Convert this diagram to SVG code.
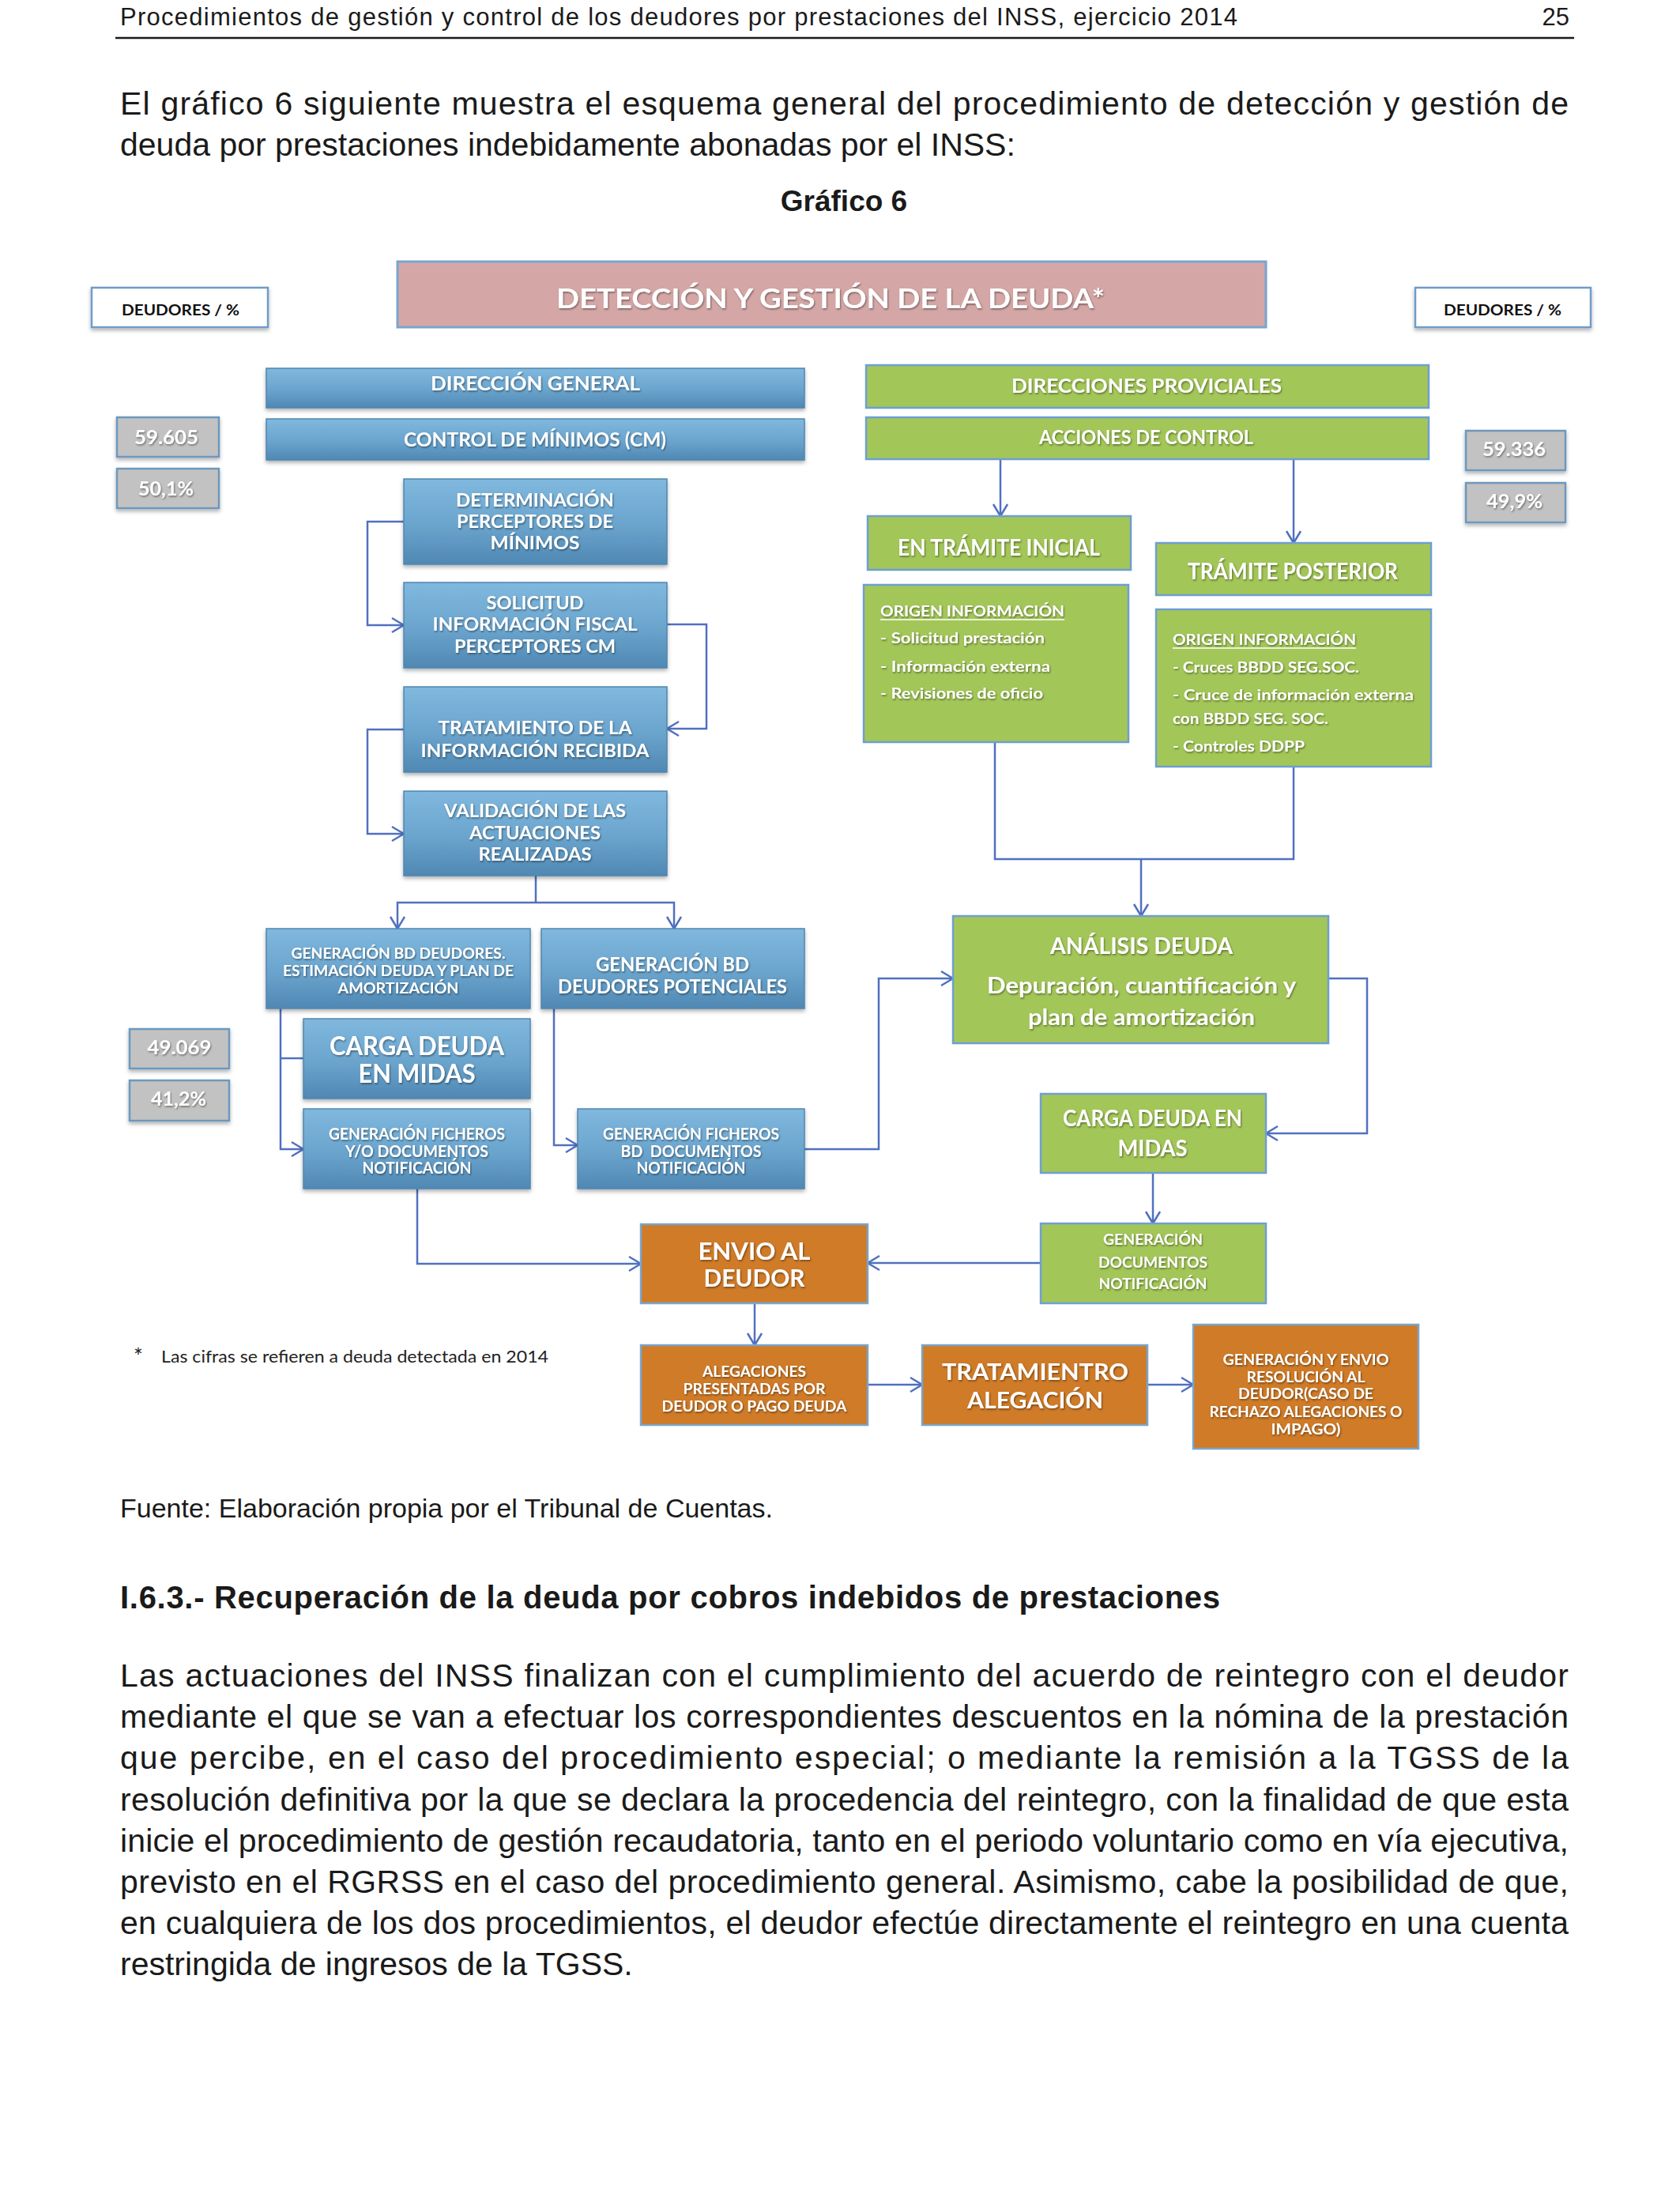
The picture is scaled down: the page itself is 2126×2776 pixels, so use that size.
<svg xmlns="http://www.w3.org/2000/svg" width="2126" height="2776" viewBox="0 0 2126 2776">
<style>
.page{font-family:"Liberation Sans",Arial,sans-serif;fill:#1a1a1a}
.lbl{font-family:Lato,"Liberation Sans",sans-serif;font-weight:700;text-anchor:middle}
.w{fill:#ffffff;filter:url(#ts)}
.lft{text-anchor:start}
.blue{fill:url(#gb);stroke:#4f86b0;stroke-width:1.5;filter:url(#bs)}
.green{fill:#a3c658;stroke:#6e9fd2;stroke-width:2.5}
.orange{fill:#cf7b28;stroke:#7aa5cb;stroke-width:2.5}
.grey{fill:#c2c2c2;stroke:#6e98bd;stroke-width:2.5;filter:url(#bs)}
.hdr{fill:#ffffff;stroke:#6f9cc8;stroke-width:2.5;filter:url(#bs)}
.title{fill:#d4a7a6;stroke:#79a5cf;stroke-width:3}
.conn path{fill:none;stroke:#5070c0;stroke-width:2.5;stroke-linejoin:miter}
</style>
<defs>
<linearGradient id="gb" x1="0" y1="0" x2="0" y2="1">
<stop offset="0" stop-color="#80b8de"/>
<stop offset="0.55" stop-color="#6aa4cd"/>
<stop offset="1" stop-color="#4f88b3"/>
</linearGradient>
<filter id="ts" x="-5%" y="-30%" width="110%" height="160%">
<feDropShadow dx="1" dy="1.5" stdDeviation="1" flood-color="#000" flood-opacity="0.45"/>
</filter>
<filter id="bs" x="-5%" y="-10%" width="110%" height="135%">
<feDropShadow dx="0" dy="3" stdDeviation="2.5" flood-color="#000" flood-opacity="0.3"/>
</filter>
<marker id="arr" markerUnits="userSpaceOnUse" markerWidth="22" markerHeight="22" viewBox="0 0 22 22" refX="19" refY="11" orient="auto">
<path d="M4,2 L19,11 L4,20" fill="none" stroke="#5070c0" stroke-width="2.5"/>
</marker>
</defs>

<rect x="0" y="0" width="2126" height="2776" fill="#ffffff"/>

<!-- page text -->
<g class="page">
<text x="152" y="32" font-size="31" textLength="1414" lengthAdjust="spacing">Procedimientos de gestión y control de los deudores por prestaciones del INSS, ejercicio 2014</text>
<text x="1986" y="32" font-size="31" text-anchor="end">25</text>
<text x="152" y="145" font-size="41" textLength="1833" lengthAdjust="spacing">El gráfico 6 siguiente muestra el esquema general del procedimiento de detección y gestión de</text>
<text x="152" y="197" font-size="41">deuda por prestaciones indebidamente abonadas por el INSS:</text>
<text x="1068" y="267" font-size="37" font-weight="bold" text-anchor="middle">Gráfico 6</text>
<text x="152" y="1920" font-size="34">Fuente: Elaboración propia por el Tribunal de Cuentas.</text>
<text x="152" y="2035" font-size="40" font-weight="bold" textLength="1392" lengthAdjust="spacing">I.6.3.- Recuperación de la deuda por cobros indebidos de prestaciones</text>
<text x="152" y="2134" font-size="41" textLength="1833" lengthAdjust="spacing">Las actuaciones del INSS finalizan con el cumplimiento del acuerdo de reintegro con el deudor</text>
<text x="152" y="2186" font-size="41" textLength="1833" lengthAdjust="spacing">mediante el que se van a efectuar los correspondientes descuentos en la nómina de la prestación</text>
<text x="152" y="2238" font-size="41" textLength="1833" lengthAdjust="spacing">que percibe, en el caso del procedimiento especial; o mediante la remisión a la TGSS de la</text>
<text x="152" y="2291" font-size="41" textLength="1833" lengthAdjust="spacing">resolución definitiva por la que se declara la procedencia del reintegro, con la finalidad de que esta</text>
<text x="152" y="2343" font-size="41" textLength="1833" lengthAdjust="spacing">inicie el procedimiento de gestión recaudatoria, tanto en el periodo voluntario como en vía ejecutiva,</text>
<text x="152" y="2395" font-size="41" textLength="1833" lengthAdjust="spacing">previsto en el RGRSS en el caso del procedimiento general. Asimismo, cabe la posibilidad de que,</text>
<text x="152" y="2447" font-size="41" textLength="1833" lengthAdjust="spacing">en cualquiera de los dos procedimientos, el deudor efectúe directamente el reintegro en una cuenta</text>
<text x="152" y="2499" font-size="41">restringida de ingresos de la TGSS.</text>
</g>
<line x1="146" y1="48" x2="1992" y2="48" stroke="#1a1a1a" stroke-width="2.5"/>

<!-- connectors -->
<g class="conn" id="connectors">
<path d="M511,660 H465 V791 H511" marker-end="url(#arr)"/>
<path d="M844,790 H894 V922 H844" marker-end="url(#arr)"/>
<path d="M511,923 H465 V1055 H511" marker-end="url(#arr)"/>
<path d="M678,1108 V1142"/>
<path d="M678,1142 H503 V1175" marker-end="url(#arr)"/>
<path d="M678,1142 H853 V1175" marker-end="url(#arr)"/>
<path d="M355,1276 V1454 H384" marker-end="url(#arr)"/>
<path d="M355,1339 H384"/>
<path d="M701,1276 V1449 H731" marker-end="url(#arr)"/>
<path d="M1018,1454 H1112 V1238 H1206" marker-end="url(#arr)"/>
<path d="M528,1504 V1599 H811" marker-end="url(#arr)"/>
<path d="M1266,581 V653" marker-end="url(#arr)"/>
<path d="M1637,581 V687" marker-end="url(#arr)"/>
<path d="M1259,939 V1087 H1637 V970"/>
<path d="M1444,1087 V1159" marker-end="url(#arr)"/>
<path d="M1681,1238 H1730 V1434 H1602" marker-end="url(#arr)"/>
<path d="M1459,1484 V1548" marker-end="url(#arr)"/>
<path d="M1317,1598 H1098" marker-end="url(#arr)"/>
<path d="M955,1649 V1702" marker-end="url(#arr)"/>
<path d="M1098,1752 H1167" marker-end="url(#arr)"/>
<path d="M1452,1752 H1510" marker-end="url(#arr)"/>
</g>

<!-- title -->
<g id="title">
<rect class="title" x="503" y="331" width="1099" height="83"/>
<text class="lbl w" x="1051" y="390" font-size="34" textLength="694" lengthAdjust="spacingAndGlyphs">DETECCIÓN Y GESTIÓN DE LA DEUDA*</text>
</g>

<g id="deudores-left">
<rect class="hdr" x="116" y="364" width="223" height="50"/>
<text class="lbl" x="228.5" y="399" font-size="19" fill="#111" textLength="149" lengthAdjust="spacingAndGlyphs">DEUDORES / %</text>
</g>
<g id="deudores-right">
<rect class="hdr" x="1791" y="364" width="222" height="50"/>
<text class="lbl" x="1901.5" y="399" font-size="19" fill="#111" textLength="149" lengthAdjust="spacingAndGlyphs">DEUDORES / %</text>
</g>

<!-- stats -->
<g id="stat-59605"><rect class="grey" x="148" y="528" width="129" height="50"/><text class="lbl w" x="210.5" y="562" font-size="25" textLength="81" lengthAdjust="spacingAndGlyphs">59.605</text></g>
<g id="stat-501"><rect class="grey" x="148" y="593" width="129" height="50"/><text class="lbl w" x="210" y="627" font-size="25" textLength="70" lengthAdjust="spacingAndGlyphs">50,1%</text></g>
<g id="stat-49069"><rect class="grey" x="164" y="1302" width="126" height="50"/><text class="lbl w" x="227" y="1334" font-size="25" textLength="81" lengthAdjust="spacingAndGlyphs">49.069</text></g>
<g id="stat-412"><rect class="grey" x="164" y="1367" width="126" height="51"/><text class="lbl w" x="226" y="1399" font-size="25" textLength="70" lengthAdjust="spacingAndGlyphs">41,2%</text></g>
<g id="stat-59336"><rect class="grey" x="1855" y="545" width="126" height="50"/><text class="lbl w" x="1916" y="577" font-size="25" textLength="80" lengthAdjust="spacingAndGlyphs">59.336</text></g>
<g id="stat-499"><rect class="grey" x="1855" y="611" width="126" height="50"/><text class="lbl w" x="1916.5" y="643" font-size="25" textLength="71" lengthAdjust="spacingAndGlyphs">49,9%</text></g>

<!-- blue column -->
<g id="direccion-general"><rect class="blue" x="337" y="466" width="681" height="50"/>
<text class="lbl w" x="677.5" y="494" font-size="25" textLength="265" lengthAdjust="spacingAndGlyphs">DIRECCIÓN GENERAL</text></g>
<g id="control-minimos"><rect class="blue" x="337" y="530" width="681" height="52"/>
<text class="lbl w" x="677" y="565" font-size="25" textLength="332" lengthAdjust="spacingAndGlyphs">CONTROL DE MÍNIMOS (CM)</text></g>
<g id="determinacion"><rect class="blue" x="511" y="606" width="333" height="108"/>
<text class="lbl w" x="677" y="641" font-size="23" textLength="200" lengthAdjust="spacingAndGlyphs">DETERMINACIÓN</text>
<text class="lbl w" x="677" y="668" font-size="23" textLength="198" lengthAdjust="spacingAndGlyphs">PERCEPTORES DE</text>
<text class="lbl w" x="677" y="695" font-size="23" textLength="113" lengthAdjust="spacingAndGlyphs">MÍNIMOS</text></g>
<g id="solicitud"><rect class="blue" x="511" y="737" width="333" height="108"/>
<text class="lbl w" x="677" y="771" font-size="23" textLength="123" lengthAdjust="spacingAndGlyphs">SOLICITUD</text>
<text class="lbl w" x="677" y="798" font-size="23" textLength="259" lengthAdjust="spacingAndGlyphs">INFORMACIÓN FISCAL</text>
<text class="lbl w" x="677" y="826" font-size="23" textLength="204" lengthAdjust="spacingAndGlyphs">PERCEPTORES CM</text></g>
<g id="tratamiento"><rect class="blue" x="511" y="869" width="333" height="108"/>
<text class="lbl w" x="677" y="929" font-size="23" textLength="245" lengthAdjust="spacingAndGlyphs">TRATAMIENTO DE LA</text>
<text class="lbl w" x="677" y="958" font-size="23" textLength="289" lengthAdjust="spacingAndGlyphs">INFORMACIÓN RECIBIDA</text></g>
<g id="validacion"><rect class="blue" x="511" y="1001" width="333" height="107"/>
<text class="lbl w" x="677" y="1034" font-size="23" textLength="230" lengthAdjust="spacingAndGlyphs">VALIDACIÓN DE LAS</text>
<text class="lbl w" x="677" y="1062" font-size="23" textLength="166" lengthAdjust="spacingAndGlyphs">ACTUACIONES</text>
<text class="lbl w" x="677" y="1089" font-size="23" textLength="143" lengthAdjust="spacingAndGlyphs">REALIZADAS</text></g>
<g id="gen-bd-deudores"><rect class="blue" x="337" y="1175" width="334" height="101"/>
<text class="lbl w" x="504" y="1212.5" font-size="18" textLength="271" lengthAdjust="spacingAndGlyphs">GENERACIÓN BD DEUDORES.</text>
<text class="lbl w" x="504" y="1234.5" font-size="18" textLength="292" lengthAdjust="spacingAndGlyphs">ESTIMACIÓN DEUDA Y PLAN DE</text>
<text class="lbl w" x="504" y="1256.5" font-size="18" textLength="153" lengthAdjust="spacingAndGlyphs">AMORTIZACIÓN</text></g>
<g id="gen-bd-potenciales"><rect class="blue" x="685" y="1175" width="333" height="101"/>
<text class="lbl w" x="851" y="1229" font-size="25" textLength="194" lengthAdjust="spacingAndGlyphs">GENERACIÓN BD</text>
<text class="lbl w" x="851" y="1257" font-size="25" textLength="290" lengthAdjust="spacingAndGlyphs">DEUDORES POTENCIALES</text></g>
<g id="carga-deuda-blue"><rect class="blue" x="384" y="1289" width="287" height="101"/>
<text class="lbl w" x="527.5" y="1334.5" font-size="32" textLength="221" lengthAdjust="spacingAndGlyphs">CARGA DEUDA</text>
<text class="lbl w" x="527.5" y="1369.5" font-size="32" textLength="148" lengthAdjust="spacingAndGlyphs">EN MIDAS</text></g>
<g id="gen-ficheros-yo"><rect class="blue" x="384" y="1403" width="287" height="101"/>
<text class="lbl w" x="527.5" y="1442" font-size="20" textLength="223" lengthAdjust="spacingAndGlyphs">GENERACIÓN FICHEROS</text>
<text class="lbl w" x="527.5" y="1464" font-size="20" textLength="181" lengthAdjust="spacingAndGlyphs">Y/O DOCUMENTOS</text>
<text class="lbl w" x="527.5" y="1485" font-size="20" textLength="138" lengthAdjust="spacingAndGlyphs">NOTIFICACIÓN</text></g>
<g id="gen-ficheros-bd"><rect class="blue" x="731" y="1403" width="287" height="101"/>
<text class="lbl w" x="874.5" y="1442" font-size="20" textLength="223" lengthAdjust="spacingAndGlyphs">GENERACIÓN FICHEROS</text>
<text class="lbl w" x="874.5" y="1464" font-size="20" textLength="178" lengthAdjust="spacingAndGlyphs" style="white-space:pre">BD  DOCUMENTOS</text>
<text class="lbl w" x="874.5" y="1485" font-size="20" textLength="138" lengthAdjust="spacingAndGlyphs">NOTIFICACIÓN</text></g>

<!-- green column -->
<g id="direcciones-provinciales"><rect class="green" x="1096" y="462" width="712" height="54"/>
<text class="lbl w" x="1451" y="497" font-size="25" textLength="342" lengthAdjust="spacingAndGlyphs">DIRECCIONES PROVICIALES</text></g>
<g id="acciones-control"><rect class="green" x="1096" y="528" width="712" height="53"/>
<text class="lbl w" x="1450.5" y="562" font-size="25" textLength="271" lengthAdjust="spacingAndGlyphs">ACCIONES DE CONTROL</text></g>
<g id="tramite-inicial"><rect class="green" x="1098" y="653" width="333" height="68"/>
<text class="lbl w" x="1264" y="703" font-size="28" textLength="256" lengthAdjust="spacingAndGlyphs">EN TRÁMITE INICIAL</text></g>
<g id="tramite-posterior"><rect class="green" x="1463" y="687" width="348" height="66"/>
<text class="lbl w" x="1636" y="733" font-size="28" textLength="266" lengthAdjust="spacingAndGlyphs">TRÁMITE POSTERIOR</text></g>
<g id="origen-inicial"><rect class="green" x="1093" y="740" width="335" height="199"/>
<text class="lbl w lft" x="1114" y="780" font-size="19" textLength="233" lengthAdjust="spacingAndGlyphs">ORIGEN INFORMACIÓN</text>
<line x1="1114" y1="784" x2="1347" y2="784" stroke="#ffffff" stroke-width="1.5"/>
<text class="lbl w lft" x="1114" y="814" font-size="19" textLength="208" lengthAdjust="spacingAndGlyphs">- Solicitud prestación</text>
<text class="lbl w lft" x="1114" y="850" font-size="19" textLength="215" lengthAdjust="spacingAndGlyphs">- Información externa</text>
<text class="lbl w lft" x="1114" y="884" font-size="19" textLength="206" lengthAdjust="spacingAndGlyphs">- Revisiones de oficio</text></g>
<g id="origen-posterior"><rect class="green" x="1463" y="771" width="348" height="199"/>
<text class="lbl w lft" x="1484" y="816" font-size="19" textLength="232" lengthAdjust="spacingAndGlyphs">ORIGEN INFORMACIÓN</text>
<line x1="1484" y1="820" x2="1716" y2="820" stroke="#ffffff" stroke-width="1.5"/>
<text class="lbl w lft" x="1484" y="851" font-size="19" textLength="236" lengthAdjust="spacingAndGlyphs">- Cruces BBDD SEG.SOC.</text>
<text class="lbl w lft" x="1484" y="886" font-size="19" textLength="305" lengthAdjust="spacingAndGlyphs">- Cruce de información externa</text>
<text class="lbl w lft" x="1484" y="916" font-size="19" textLength="197" lengthAdjust="spacingAndGlyphs">con BBDD SEG. SOC.</text>
<text class="lbl w lft" x="1484" y="951" font-size="19" textLength="167" lengthAdjust="spacingAndGlyphs">- Controles DDPP</text></g>
<g id="analisis-deuda"><rect class="green" x="1206" y="1159" width="475" height="161"/>
<text class="lbl w" x="1444.5" y="1207" font-size="28" textLength="231" lengthAdjust="spacingAndGlyphs">ANÁLISIS DEUDA</text>
<text class="lbl w" x="1444.5" y="1257" font-size="28" textLength="391" lengthAdjust="spacingAndGlyphs">Depuración, cuantificación y</text>
<text class="lbl w" x="1444.5" y="1297" font-size="28" textLength="287" lengthAdjust="spacingAndGlyphs">plan de amortización</text></g>
<g id="carga-deuda-green"><rect class="green" x="1317" y="1384" width="285" height="100"/>
<text class="lbl w" x="1458.5" y="1425" font-size="28" textLength="227" lengthAdjust="spacingAndGlyphs">CARGA DEUDA EN</text>
<text class="lbl w" x="1458.5" y="1463" font-size="28" textLength="88" lengthAdjust="spacingAndGlyphs">MIDAS</text></g>
<g id="gen-documentos"><rect class="green" x="1317" y="1548" width="285" height="101"/>
<text class="lbl w" x="1459" y="1575" font-size="19" textLength="126" lengthAdjust="spacingAndGlyphs">GENERACIÓN</text>
<text class="lbl w" x="1459" y="1604" font-size="19" textLength="138" lengthAdjust="spacingAndGlyphs">DOCUMENTOS</text>
<text class="lbl w" x="1459" y="1631" font-size="19" textLength="137" lengthAdjust="spacingAndGlyphs">NOTIFICACIÓN</text></g>

<!-- orange -->
<g id="envio-deudor"><rect class="orange" x="811" y="1549" width="287" height="100"/>
<text class="lbl w" x="954.5" y="1594" font-size="31" textLength="142" lengthAdjust="spacingAndGlyphs">ENVIO AL</text>
<text class="lbl w" x="954.5" y="1628" font-size="31" textLength="128" lengthAdjust="spacingAndGlyphs">DEUDOR</text></g>
<g id="alegaciones"><rect class="orange" x="811" y="1702" width="287" height="101"/>
<text class="lbl w" x="954.5" y="1742" font-size="19" textLength="131" lengthAdjust="spacingAndGlyphs">ALEGACIONES</text>
<text class="lbl w" x="954.5" y="1764" font-size="19" textLength="180" lengthAdjust="spacingAndGlyphs">PRESENTADAS POR</text>
<text class="lbl w" x="954.5" y="1786" font-size="19" textLength="234" lengthAdjust="spacingAndGlyphs">DEUDOR O PAGO DEUDA</text></g>
<g id="tratamiento-alegacion"><rect class="orange" x="1167" y="1702" width="285" height="101"/>
<text class="lbl w" x="1310" y="1746" font-size="28" textLength="236" lengthAdjust="spacingAndGlyphs">TRATAMIENTRO</text>
<text class="lbl w" x="1310" y="1782" font-size="28" textLength="172" lengthAdjust="spacingAndGlyphs">ALEGACIÓN</text></g>
<g id="generacion-envio"><rect class="orange" x="1510" y="1676" width="285" height="157"/>
<text class="lbl w" x="1652.5" y="1726.5" font-size="18" textLength="210" lengthAdjust="spacingAndGlyphs">GENERACIÓN Y ENVIO</text>
<text class="lbl w" x="1652.5" y="1748.5" font-size="18" textLength="150" lengthAdjust="spacingAndGlyphs">RESOLUCIÓN AL</text>
<text class="lbl w" x="1652.5" y="1769.5" font-size="18" textLength="171" lengthAdjust="spacingAndGlyphs">DEUDOR(CASO DE</text>
<text class="lbl w" x="1652.5" y="1792.5" font-size="18" textLength="244" lengthAdjust="spacingAndGlyphs">RECHAZO ALEGACIONES O</text>
<text class="lbl w" x="1652.5" y="1814.5" font-size="18" textLength="88" lengthAdjust="spacingAndGlyphs">IMPAGO)</text></g>

<!-- footnote -->
<g id="footnote">
<text x="169" y="1727" font-family="Lato,'Liberation Sans',sans-serif" font-size="28" fill="#222">*</text>
<text x="204" y="1724" font-family="Lato,'Liberation Sans',sans-serif" font-size="22" fill="#222" textLength="490" lengthAdjust="spacingAndGlyphs">Las cifras se refieren a deuda detectada en 2014</text>
</g>
</svg>
